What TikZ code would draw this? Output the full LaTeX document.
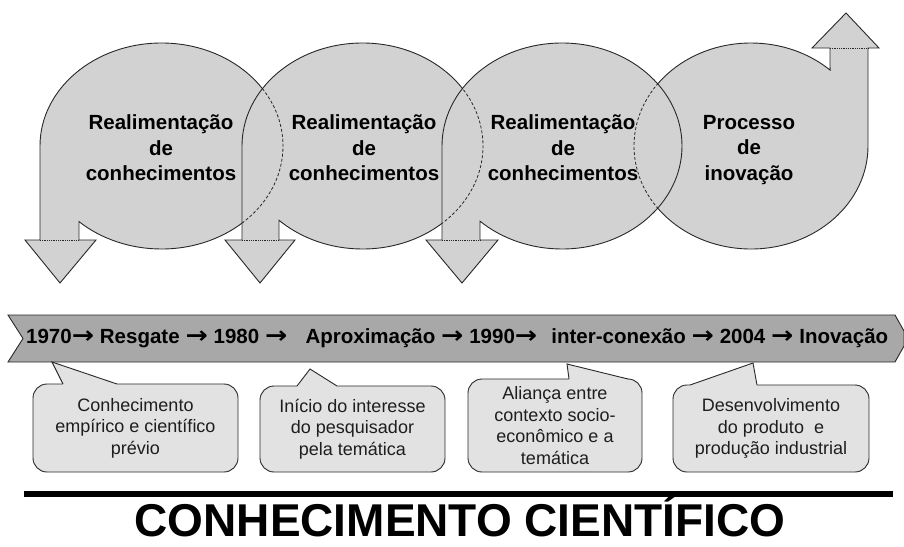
\documentclass[tikz,border=0pt]{standalone}
\usepackage{fontspec}
\setmainfont{Liberation Sans}
\newfontfamily\arrfont{DejaVu Sans}
\newcommand\ar{\scalebox{1.3}[1.15]{\arrfont\bfseries →}}
\definecolor{cfill}{RGB}{210,210,210}
\definecolor{bfill}{RGB}{168,168,168}
\definecolor{kfill}{RGB}{226,226,226}
\definecolor{cline}{RGB}{40,40,40}
\definecolor{ktext}{RGB}{30,30,30}
\newcommand\shpA{(40,240) -- (40,146) arc[start angle=180,end angle=492.8,x radius=121.5,y radius=103] -- (79,240) -- (96,240) -- (60,283) -- (25,240) -- cycle}
\newcommand\shpB{(242,240) -- (242,146) arc[start angle=180,end angle=493.9,x radius=120.5,y radius=103] -- (279,240) -- (295,240) -- (260,283) -- (225,240) -- cycle}
\newcommand\shpC{(442,240) -- (442,146) arc[start angle=180,end angle=493.1,x radius=120,y radius=103] -- (480,240) -- (498,240) -- (462,283) -- (426,240) -- cycle}
\newcommand\shpD{(868,48) -- (868,146) arc[start angle=0,end angle=312.5,x radius=117,y radius=103] -- (830,48) -- (812,48) -- (846,13) -- (879,48) -- cycle}
\begin{document}
\begin{tikzpicture}[x=1pt,y=-1pt,
  blob/.style={fill=cfill, draw=cline, line width=0.9pt},
  hid/.style={draw=cline, line width=0.8pt, dash pattern=on 3pt off 2pt},
  basedot/.style={draw=cline, line width=0.8pt, densely dotted},
  ctext/.style={align=center, inner sep=0pt, font=\bfseries\fontsize{20.5}{25.5}\selectfont},
  banner/.style={fill=bfill, draw=cline, line width=0.9pt},
  btext/.style={inner sep=0pt, font=\bfseries\fontsize{20.5}{22}\selectfont},
  kbox/.style={fill=kfill, draw=cline, line width=0.9pt, rounded corners=14pt, align=center,
    text=ktext, inner sep=0pt, font=\fontsize{18}{21.5}\selectfont},
  kptr/.style={draw=cline, line width=0.9pt, line join=miter},
  kcover/.style={fill=kfill},
  rule/.style={draw=black, line width=5.5pt},
  title/.style={inner sep=0pt, font=\bfseries\fontsize{46}{46}\selectfont}]
\useasboundingbox (0,0) rectangle (904,546);

% circular arrows
\path[blob] \shpA;
\path[basedot] (40,240) -- (79,240);
\path[blob] \shpB;
\path[basedot] (242,240) -- (279,240);
\begin{scope}
  \clip \shpB;
  \path[hid] \shpA;
\end{scope}
\path[blob] \shpD;
\path[basedot] (830,48) -- (868,48);
\path[blob] \shpC;
\path[basedot] (442,240) -- (480,240);
\begin{scope}
  \clip \shpC;
  \path[hid] \shpB;
  \path[hid] \shpD;
\end{scope}

\node[ctext] (c1) at (161,148) {Realimentação\\de\\conhecimentos};
\node[ctext] (c2) at (364,148) {Realimentação\\de\\conhecimentos};
\node[ctext] (c3) at (563,148) {Realimentação\\de\\conhecimentos};
\node[ctext] (c4) at (749,150) {Processo\\de\\inovação};

% timeline banner
\path[banner] (8,315) -- (895,315) -- (904,331) -- (904,346) -- (895,362) -- (8,362) -- (23,338.5) -- cycle;
\node[btext, anchor=west] (tl) at (26,338.5) {\makebox[862pt][s]{1970\ar{} Resgate \ar{} 1980 \ar\hspace{18pt plus 4pt}Aproximação \ar{} 1990\ar\hspace{14pt plus 4pt}inter-conexão \ar{} 2004 \ar{} Inovação}};

% callouts
\node[kbox, minimum width=205pt, minimum height=88pt] (k1) at (135.5,428) {Conhecimento\\empírico e científico\\prévio};
\fill[kcover] (63,384) -- (52,362) -- (117,384) -- (117,387) -- (63,387) -- cycle;
\draw[kptr] (63,384) -- (52,362) -- (117,384);

\node[kbox, minimum width=185pt, minimum height=86pt] (k2) at (352.5,429) {Início do interesse\\do pesquisador\\pela temática};
\fill[kcover] (297,386) -- (310,369) -- (337,386) -- (337,389) -- (297,389) -- cycle;
\draw[kptr] (297,386) -- (310,369) -- (337,386);

\node[kbox, minimum width=174pt, minimum height=93pt] (k3) at (555,425.5) {Aliança entre\\contexto socio-\\econômico e a\\temática};
\fill[kcover] (569,379) -- (567,364) -- (628,379) -- (628,382) -- (569,382) -- cycle;
\draw[kptr] (569,379) -- (567,364) -- (628,379);

\node[kbox, minimum width=196pt, minimum height=87pt] (k4) at (771,428.5) {Desenvolvimento\\do produto\ \ e\\produção industrial};
\fill[kcover] (690,385) -- (753,363) -- (757,385) -- (757,388) -- (690,388) -- cycle;
\draw[kptr] (690,385) -- (753,363) -- (757,385);

% rule and title
\coordinate (r1) at (24,494);
\coordinate (r2) at (893,494);
\draw[rule] (r1) -- (r2);
\node[title, anchor=base] (tt) at (460,536.5) {CONHECIMENTO CIENTÍFICO};
\end{tikzpicture}
\end{document}
